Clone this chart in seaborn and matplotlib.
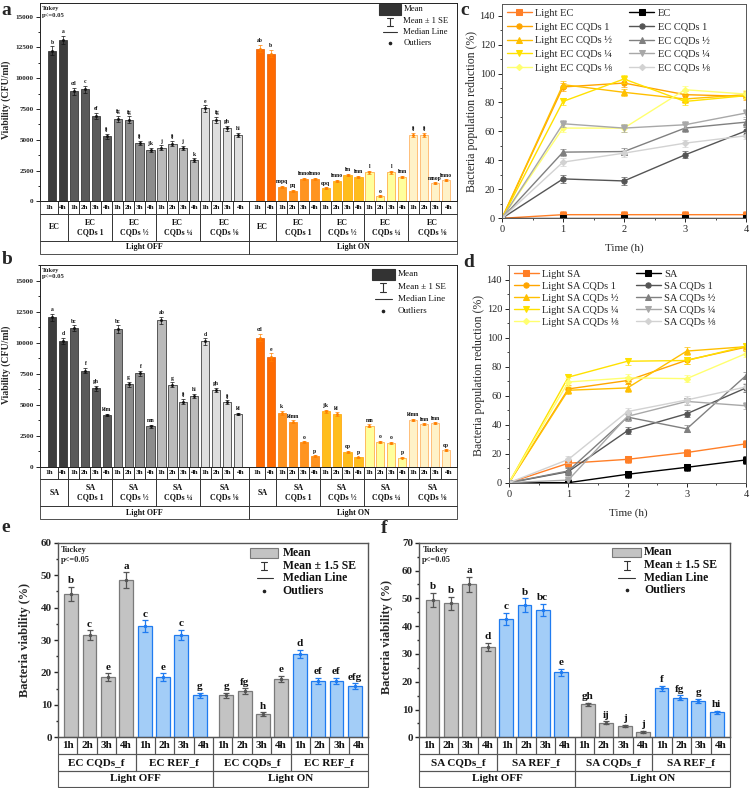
import numpy as np
import seaborn as sns
import matplotlib.pyplot as plt
from matplotlib.patches import Rectangle
from matplotlib.lines import Line2D
from matplotlib.ticker import MultipleLocator

sns.set_theme(style="ticks")
plt.rcParams["font.family"] = ["Liberation Serif", "DejaVu Serif"]
plt.rcParams["axes.edgecolor"] = "#222222"

W, H = 751, 788

# ---------------- data: panels a / b (CFU/ml) ----------------
hours_ab = ["1h", "4h"] + ["1h", "2h", "3h", "4h"] * 4
groups_ec = ["EC", "EC\nCQDs 1", "EC\nCQDs ½", "EC\nCQDs ¼", "EC\nCQDs ⅛"]
groups_sa = ["SA", "SA\nCQDs 1", "SA\nCQDs ½", "SA\nCQDs ¼", "SA\nCQDs ⅛"]
group_sizes = [2, 4, 4, 4, 4]

a_off = [12250, 13100, 8950, 9100, 6950, 5300, 6700, 6650, 4750, 4200,
         4350, 4700, 4350, 3350, 7550, 6600, 5950, 5400]
a_off_se = [350, 350, 280, 280, 250, 200, 250, 250, 200, 150,
            200, 200, 150, 150, 250, 250, 200, 200]
a_off_let = ["b", "a", "cd", "c", "ef", "ij", "fg", "fg", "ij", "jk",
             "j", "ij", "j", "k", "e", "fg", "gh", "hi"]
a_on = [12400, 12000, 1200, 850, 1830, 1830, 1070, 1660, 2150, 2010,
        2370, 450, 2370, 2010, 5400, 5400, 1500, 1750]
a_on_se = [300, 300, 80, 80, 80, 80, 80, 80, 100, 100,
           100, 60, 100, 100, 200, 200, 60, 60]
a_on_let = ["ab", "b", "nopq", "pq", "lmno", "lmno", "opq", "lmno", "lm", "lmn",
            "l", "o", "l", "lmn", "ij", "ij", "mnop", "lmno"]

b_off = [12050, 10150, 11150, 7750, 6320, 4170, 11100, 6650, 7550, 3250,
         11800, 6600, 5250, 5700, 10100, 6200, 5200, 4230]
b_off_se = [300, 250, 250, 200, 200, 100, 300, 200, 200, 100,
            300, 200, 200, 150, 250, 150, 150, 100]
b_off_let = ["a", "d", "bc", "f", "gh", "klm", "bc", "g", "f", "mn",
             "ab", "g", "ij", "hi", "d", "gh", "ij", "kl"]
b_on = [10400, 8850, 4350, 3630, 1970, 860, 4450, 4220, 1210, 760,
        3310, 2020, 1940, 730, 3770, 3420, 3500, 1350]
b_on_se = [300, 300, 150, 100, 80, 60, 150, 150, 80, 60,
           100, 80, 80, 50, 100, 80, 80, 60]
b_on_let = ["cd", "e", "k", "klmn", "o", "p", "jk", "kl", "op", "p",
            "mn", "o", "o", "p", "klmn", "lmn", "lmn", "op"]

grey_faces = ["#3c3c3c", "#5a5a5a", "#8c8c8c", "#bababa", "#dedede"]
orange_faces = ["#ff6a00", "#ff9420", "#ffbd1c", "#ffff9c", "#fff2c8"]
orange_edges = ["#e65c00", "#ff8000", "#ffa000", "#ffa030", "#ffa850"]

# ---------------- data: panels c / d (% reduction) ----------------
t_h = [0, 1, 2, 3, 4]
c_light_ec = [0, 2.5, 2.5, 2.5, 2.5]
c_light_ec1 = [0, 90.7, 93.4, 85.4, 84.2]
c_light_ec2 = [0, 92.3, 87.0, 82.4, 85.4]
c_light_ec4 = [0, 80.7, 96.2, 80.7, 84.7]
c_light_ec8 = [0, 62.3, 62.3, 88.8, 85.8]
c_ec = [0, 0, 0, 0, 0]
c_ec1 = [0, 27.2, 25.8, 43.8, 60.4]
c_ec2 = [0, 45.7, 46.1, 62.3, 66.4]
c_ec4 = [0, 65.3, 62.3, 64.6, 72.7]
c_ec8 = [0, 38.8, 45.0, 51.9, 57.0]

d_light_sa = [0, 13.4, 16.1, 20.8, 26.8]
d_light_sa1 = [0, 64.6, 70.4, 84.4, 93.4]
d_light_sa2 = [0, 63.7, 65.3, 90.7, 93.7]
d_light_sa4 = [0, 72.7, 83.7, 84.2, 94.1]
d_light_sa8 = [0, 69.4, 72.2, 71.7, 89.0]
d_sa = [0, 0, 5.8, 10.6, 15.7]
d_sa1 = [0, 7.6, 35.8, 47.5, 65.3]
d_sa2 = [0, 8.1, 45.2, 37.1, 73.8]
d_sa4 = [0, 1.8, 45.7, 56.0, 53.0]
d_sa8 = [0, 16.0, 49.0, 57.0, 66.0]

line_err = [0, 2.5, 2.5, 2.5, 2.5]
light_cols = ["#ff7f27", "#ffa500", "#ffbf00", "#ffe100", "#ffff70"]
dark_cols = ["#000000", "#555555", "#808080", "#a8a8a8", "#d2d2d2"]
markers = ["s", "o", "^", "v", "D"]

# ---------------- data: panels e / f (% viability) ----------------
hours_ef = ["1h", "2h", "3h", "4h"] * 4
e_vals = [44.2, 31.5, 18.5, 48.5, 34.3, 18.5, 31.5, 12.9,
          12.9, 14.3, 7.2, 18.0, 25.7, 17.3, 17.3, 15.8]
e_se = [2.2, 1.5, 1.2, 2.4, 1.8, 1.2, 1.6, 0.8,
        0.8, 0.8, 0.5, 1.0, 1.3, 1.0, 1.0, 0.8]
e_let = ["b", "c", "e", "a", "c", "e", "c", "g",
         "g", "fg", "h", "e", "d", "ef", "ef", "efg"]
f_vals = [49.4, 48.2, 55.1, 32.6, 42.6, 47.6, 45.8, 23.4,
          11.9, 5.3, 4.1, 2.0, 17.6, 14.3, 13.1, 9.0]
f_se = [2.5, 2.3, 2.7, 1.5, 2.2, 2.4, 2.3, 1.3,
        0.6, 0.4, 0.3, 0.3, 1.0, 0.8, 0.8, 0.5]
f_let = ["b", "b", "a", "d", "c", "b", "bc", "e",
         "gh", "ij", "j", "j", "f", "fg", "g", "hi"]
groups_e = ["EC CQDs_f", "EC REF_f", "EC CQDs_f", "EC REF_f"]
groups_f = ["SA CQDs_f", "SA REF_f", "SA CQDs_f", "SA REF_f"]

fig = plt.figure(figsize=(W / 100, H / 100), dpi=100)


def axes_px(l, t, r, b):
    ax = fig.add_axes([l / W, 1 - b / H, (r - l) / W, (b - t) / H])
    return ax, b - t


def fx(x):
    return x / W


def fy(y):
    return 1 - y / H


def draw_bars(ax, pos, vals, se, faces, edges, ecol, letters, fs, lw, cap, ms):
    ax.bar(pos, vals, width=0.75, color=list(faces), edgecolor=list(edges),
           linewidth=lw, zorder=2)
    ax.errorbar(pos, vals, yerr=se, fmt=".", ms=ms, color=ecol, ecolor=ecol,
                elinewidth=lw, capsize=cap, capthick=lw, zorder=3)
    for x, v, s, t in zip(pos, vals, se, letters):
        ax.annotate(t, (x, v + s), xytext=(0, 1.2), textcoords="offset points",
                    ha="center", va="bottom", fontsize=fs, fontweight="bold",
                    color="#111111")


def draw_table(ax, rows, ax_h, lw, ec):
    tr = ax.get_xaxis_transform()
    y = 0.0
    for h, edges, labels, fs in rows:
        hh = h / ax_h
        for x0, x1, lab in zip(edges[:-1], edges[1:], labels):
            ax.add_patch(Rectangle((x0, y - hh), x1 - x0, hh, transform=tr,
                                   clip_on=False, fill=False, lw=lw, ec=ec))
            ax.text((x0 + x1) / 2, y - hh / 2, lab, transform=tr, ha="center",
                    va="center", fontsize=fs, fontweight="bold",
                    linespacing=1.2, color="#111111")
        y -= hh


def bar_legend(rect, ibar, med, dot, tx, rows, fs, face, edge, weight, txt):
    x0, y0, x1, y1 = rect
    fig.add_artist(Rectangle((fx(x0), fy(y1)), (x1 - x0) / W, (y1 - y0) / H,
                             transform=fig.transFigure, fc=face, ec=edge, lw=0.8))
    bx, by0, by1, cw = ibar
    kw = dict(transform=fig.transFigure, color="#333333", lw=0.8)
    fig.add_artist(Line2D([fx(bx), fx(bx)], [fy(by0), fy(by1)], **kw))
    fig.add_artist(Line2D([fx(bx - cw), fx(bx + cw)], [fy(by0), fy(by0)], **kw))
    fig.add_artist(Line2D([fx(bx - cw), fx(bx + cw)], [fy(by1), fy(by1)], **kw))
    mx0, mx1, my = med
    fig.add_artist(Line2D([fx(mx0), fx(mx1)], [fy(my), fy(my)], **kw))
    fig.add_artist(Line2D([fx(dot[0])], [fy(dot[1])], marker="o", ms=1.6,
                          transform=fig.transFigure, color="#222222", lw=0))
    for r, s in zip(rows, txt):
        fig.text(fx(tx), fy(r), s, ha="left", va="center", fontsize=fs,
                 fontweight=weight, color="#111111")


def style_bar_axes(ax, ylim, major, minor, fs, lw):
    ax.set_ylim(*ylim)
    ax.yaxis.set_major_locator(MultipleLocator(major))
    ax.yaxis.set_minor_locator(MultipleLocator(minor))
    ax.set_xticks([])
    ax.tick_params(axis="y", which="major", direction="out", length=3,
                   width=lw, labelsize=fs, pad=1.5)
    ax.tick_params(axis="y", which="minor", direction="out", length=1.5, width=lw)
    for lab in ax.get_yticklabels():
        lab.set_fontweight("bold")
    for sp in ax.spines.values():
        sp.set_linewidth(lw)
        sp.set_visible(True)


# ---------------- panels a and b ----------------
pos_off = np.arange(18)
pos_on = np.arange(19, 37)
row_edges_off = [-1.1] + list(np.arange(0.5, 17, 1)) + [18]
row_edges_on = [18] + list(np.arange(19.5, 36, 1)) + [37]
grp_edges_off = [-1.1, 1.5, 5.5, 9.5, 13.5, 18]
grp_edges_on = [18, 20.5, 24.5, 28.5, 32.5, 37]

panels_ab = [
    ((40, 3.5, 457, 201.5), 16070, a_off, a_off_se, a_off_let, a_on, a_on_se,
     a_on_let, groups_ec),
    ((40, 265, 457, 466.7), 16260, b_off, b_off_se, b_off_let, b_on, b_on_se,
     b_on_let, groups_sa),
]
for box, ytop, off, off_se, off_let, on, on_se, on_let, grp in panels_ab:
    ax, ah = axes_px(*box)
    ax.set_xlim(-1.1, 37)
    draw_bars(ax, pos_off, off, off_se, np.repeat(grey_faces, group_sizes),
              ["#222222"] * 18, "#111111", off_let, 4.1, 0.5, 1.3, 2.2)
    draw_bars(ax, pos_on, on, on_se, np.repeat(orange_faces, group_sizes),
              np.repeat(orange_edges, group_sizes), "#ff8000", on_let, 4.1,
              0.5, 1.3, 2.2)
    style_bar_axes(ax, (0, ytop), 2500, 1250, 5.2, 0.7)
    ax.text(0.004, 0.985, "Tukey\np<=0.05", transform=ax.transAxes, ha="left",
            va="top", fontsize=4.8, fontweight="bold", linespacing=1.35)
    draw_table(ax, [
        (12.5, row_edges_off + row_edges_on[1:], hours_ab + hours_ab, 5.1),
        (27, grp_edges_off + grp_edges_on[1:], grp + grp, 5.8),
        (13, [-1.1, 18, 37], ["Light OFF", "Light ON"], 5.8),
    ], ah, 0.6, "#333333")

bar_legend((379.3, 4, 401, 15), (390, 17.5, 25.5, 3), (383, 397, 32.3),
           (390, 43.3), 403.3, [9.3, 21, 32.3, 43.3], 6.2, "#333333",
           "#333333", "normal", ["Mean", "Mean ± 1 SE", "Median Line", "Outliers"])
bar_legend((371.7, 269, 395, 280), (383, 282.5, 292, 3), (375, 392, 299),
           (383, 310.7), 398, [274.3, 287.3, 299, 310.7], 6.6, "#333333",
           "#333333", "normal", ["Mean", "Mean ± 1 SE", "Median Line", "Outliers"])

# ---------------- panels c and d ----------------
series_c = [c_light_ec, c_light_ec1, c_light_ec2, c_light_ec4, c_light_ec8,
            c_ec, c_ec1, c_ec2, c_ec4, c_ec8]
names_c = ["Light EC", "Light EC CQDs 1", "Light EC CQDs ½", "Light EC CQDs ¼",
           "Light EC CQDs ⅛", "EC", "EC CQDs 1", "EC CQDs ½", "EC CQDs ¼",
           "EC CQDs ⅛"]
series_d = [d_light_sa, d_light_sa1, d_light_sa2, d_light_sa4, d_light_sa8,
            d_sa, d_sa1, d_sa2, d_sa4, d_sa8]
names_d = ["Light SA", "Light SA CQDs 1", "Light SA CQDs ½", "Light SA CQDs ¼",
           "Light SA CQDs ⅛", "SA", "SA CQDs 1", "SA CQDs ½", "SA CQDs ¼",
           "SA CQDs ⅛"]
line_cols = light_cols + dark_cols
line_marks = markers + markers

for box, ytop, series, names, lab_xy, spacing in [
        ((502, 4, 746, 218.3), 148, series_c, names_c, (624, 248), 0.42),
        ((509, 265, 746, 482.7), 150, series_d, names_d, (628, 513), 0.26)]:
    ax, ah = axes_px(*box)
    for vals, name, col, mk in zip(series, names, line_cols, line_marks):
        ax.errorbar(t_h, vals, yerr=line_err, fmt="none", ecolor=col,
                    elinewidth=0.6, capsize=2, capthick=0.6, alpha=0.8)
        sns.lineplot(x=t_h, y=vals, ax=ax, color=col, marker=mk,
                     markersize=3.8 if mk != "D" else 3.2, markeredgecolor=col,
                     linewidth=1.0, label=name, errorbar=None)
    ax.set_xlim(0, 4)
    ax.set_ylim(0, ytop)
    ax.xaxis.set_major_locator(MultipleLocator(1))
    ax.xaxis.set_minor_locator(MultipleLocator(0.5))
    ax.yaxis.set_major_locator(MultipleLocator(20))
    ax.yaxis.set_minor_locator(MultipleLocator(10))
    ax.tick_params(which="major", direction="out", length=3, width=0.7,
                   labelsize=7.5, pad=2)
    ax.tick_params(which="minor", direction="out", length=1.6, width=0.6)
    ax.set_xlabel("")
    ax.set_ylabel("")
    for sp in ax.spines.values():
        sp.set_linewidth(0.7)
        sp.set_color("#555555")
    ax.legend(loc="upper left", bbox_to_anchor=(0.0, 1.0), ncol=2, frameon=False,
              fontsize=7.5, handlelength=2.4, handletextpad=0.35,
              columnspacing=1.6, labelspacing=spacing, borderaxespad=0.25,
              borderpad=0.2)
    fig.text(fx(lab_xy[0]), fy(lab_xy[1]), "Time (h)", ha="center", va="center",
             fontsize=8)
fig.text(fx(472), fy(112), "Bacteria population reduction (%)", rotation=90,
         ha="center", va="center", fontsize=8.5)
fig.text(fx(479), fy(375), "Bacteria population reduction (%)", rotation=90,
         ha="center", va="center", fontsize=8.5)

# ---------------- panels e and f ----------------
pos_ef = list(np.arange(8)) + list(np.arange(8) + 8.45)
ef_left, ef_mid, ef_right = -0.72, 7.725, 16.17
hour_edges_ef = list(np.linspace(ef_left, ef_mid, 9)) + list(np.linspace(ef_mid, ef_right, 9))[1:]
grp_edges_ef = [ef_left, (ef_left + ef_mid) / 2, ef_mid, (ef_mid + ef_right) / 2, ef_right]
faces_ef = ["#c3c3c3"] * 4 + ["#a3cdf7"] * 4 + ["#c3c3c3"] * 4 + ["#a3cdf7"] * 4
edges_ef = ["#7a7a7a"] * 4 + ["#1f7bf0"] * 4 + ["#7a7a7a"] * 4 + ["#1f7bf0"] * 4

for box, ytop, vals, se, lets, grp, ylab_xy in [
        ((58, 542.7, 368, 737.3), 60, e_vals, e_se, e_let, groups_e, (25, 640)),
        ((419.3, 542.7, 730, 737.3), 70, f_vals, f_se, f_let, groups_f, (386.7, 637))]:
    ax, ah = axes_px(*box)
    ax.set_xlim(ef_left, ef_right)
    for idx in (slice(0, 4), slice(4, 8), slice(8, 12), slice(12, 16)):
        ecol = "#555555" if faces_ef[idx][0] == "#c3c3c3" else "#1f7bf0"
        draw_bars(ax, pos_ef[idx], vals[idx], se[idx], faces_ef[idx],
                  edges_ef[idx], ecol, lets[idx], 8, 0.9, 2.2, 3)
    style_bar_axes(ax, (0, ytop), 10, 5, 8, 1.0)
    for sp in ax.spines.values():
        sp.set_color("#555555")
    ax.text(0.01, 0.985, "Tuckey\np<=0.05", transform=ax.transAxes, ha="left",
            va="top", fontsize=6, fontweight="bold", linespacing=1.4)
    draw_table(ax, [
        (16.7, hour_edges_ef, hours_ef, 8),
        (16.7, grp_edges_ef, grp, 8),
        (16, [ef_left, ef_mid, ef_right], ["Light OFF", "Light ON"], 8),
    ], ah, 0.8, "#555555")
    fig.text(fx(ylab_xy[0]), fy(ylab_xy[1]), "Bacteria viability (%)",
             rotation=90, ha="center", va="center", fontsize=8.8,
             fontweight="bold")

bar_legend((250, 547.7, 278, 558), (264, 561.7, 570, 3), (256.7, 273.3, 578.3),
           (264.3, 590.7), 282.7, [552.7, 565.7, 578.3, 590.7], 8.5, "#c3c3c3",
           "#7a7a7a", "bold", ["Mean", "Mean ± 1.5 SE", "Median Line", "Outliers"])
bar_legend((612.3, 547.7, 640.7, 557.3), (626.5, 561, 569.5, 3), (618, 635, 577.7),
           (626.5, 590), 644.3, [552.3, 565, 577.7, 590], 8.5, "#c3c3c3",
           "#7a7a7a", "bold", ["Mean", "Mean ± 1.5 SE", "Median Line", "Outliers"])

# y labels for a and b
fig.text(fx(6), fy(100), "Viability (CFU/ml)", rotation=90, ha="center",
         va="center", fontsize=7, fontweight="bold")
fig.text(fx(6), fy(365), "Viability (CFU/ml)", rotation=90, ha="center",
         va="center", fontsize=7, fontweight="bold")

# panel letters
for lab, x, y in [("a", 1, 15), ("b", 1.7, 264), ("c", 460.7, 15),
                  ("d", 463, 267), ("e", 1.7, 531.7), ("f", 381, 532.7)]:
    fig.text(fx(x), fy(y), lab, ha="left", va="baseline", fontsize=14,
             fontweight="bold")

fig.savefig("out.png", dpi=100)
